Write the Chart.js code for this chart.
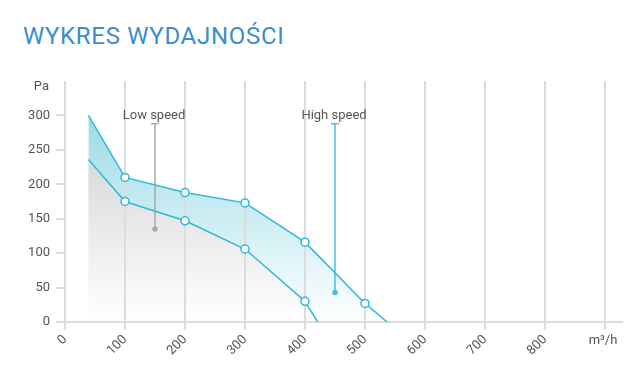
<!DOCTYPE html>
<html>
<head>
<meta charset="utf-8">
<script src="https://cdn.jsdelivr.net/npm/chart.js@4/dist/chart.umd.min.js"></script>
<style>
  html, body { margin: 0; padding: 0; background: #fff; }
  #wrap { position: relative; width: 633px; height: 388px; }
  #title {
    position: absolute; left: 23px; top: 24px;
    font: 400 24px Roboto, sans-serif; line-height: 24px;
    letter-spacing: 0.7px;
    color: #3a8ecf; white-space: nowrap;
  }
  #perfChart { position: absolute; left: 0; top: 0; }
</style>
</head>
<body>
<div id="wrap">
  <div id="title">WYKRES WYDAJNOŚCI</div>
  <canvas id="perfChart" width="633" height="388"></canvas>
</div>
<script>
/* ===== dane z wykresu ===== */
const lowFlow  = [39, 100, 200, 300, 400, 421];
const lowPa    = [236, 175, 147, 106, 30, 0];
const highFlow = [39, 100, 200, 300, 400, 500, 537];
const highPa   = [300, 210, 188, 173, 116, 27, 0];

const xTicks = [0, 100, 200, 300, 400, 500, 600, 700, 800, 900];
const yTicks = [0, 50, 100, 150, 200, 250, 300, 350];
const xUnit = "m³/h";
const yUnit = "Pa";

// znaczniki "Low speed" / "High speed": [x, górny y, dolny y]
const lowMark  = [150, 288, 135];
const highMark = [450, 288, 43];
const markLabels = ["Low speed", "High speed"];

const CYAN = "#2fb8dc";
const GRID = "#dcdcdc";
const TEXT = "#555555";

function toPoints(xs, ys){
    return xs.map((x, i) => ({ x: x, y: ys[i] }));
}

// kółka tylko na punktach pomiarowych (bez początku i końca)
function innerRadius(xs, r){
    return xs.map((_, i) => (i === 0 || i === xs.length - 1) ? 0 : r);
}

function grayFill(ctx){
    const area = ctx.chart.chartArea;
    if(!area) return "#e6e6e6";
    const y = ctx.chart.scales.y;
    const g = ctx.chart.ctx.createLinearGradient(0, y.getPixelForValue(240), 0, area.bottom);
    g.addColorStop(0, "#d9d9d9");
    g.addColorStop(1, "#ffffff");
    return g;
}

function cyanFill(ctx){
    const area = ctx.chart.chartArea;
    if(!area) return "#bfe8ef";
    const y = ctx.chart.scales.y;
    const g = ctx.chart.ctx.createLinearGradient(0, y.getPixelForValue(300), 0, area.bottom);
    g.addColorStop(0, "#9bdae6");
    g.addColorStop(0.55, "#d2eff4");
    g.addColorStop(1, "#ffffff");
    return g;
}

/* ===== napisy: jednostki osi i etykiety znaczników ===== */
const textPlugin = {
    id: "extraText",
    afterDraw(chart){
        const c = chart.ctx;
        const xs = chart.scales.x, ys = chart.scales.y;
        c.save();
        c.fillStyle = TEXT;
        c.font = "13px Roboto, sans-serif";
        c.textBaseline = "middle";

        c.textAlign = "right";
        c.fillText(yUnit, xs.getPixelForValue(0) - 16, ys.getPixelForValue(341));

        c.textAlign = "center";
        c.fillText(xUnit, xs.getPixelForValue(900) - 2, chart.chartArea.bottom + 19);

        [lowMark, highMark].forEach((m, i) => {
            c.fillText(markLabels[i], xs.getPixelForValue(m[0]) - 1, ys.getPixelForValue(300));
        });
        c.restore();
    }
};

const ctx = document.getElementById("perfChart");

new Chart(ctx, {
    type: "line",
    data: {
        datasets: [
            {
                label: "Low speed",
                data: toPoints(lowFlow, lowPa),
                borderColor: CYAN,
                borderWidth: 1.5,
                backgroundColor: grayFill,
                fill: "origin",
                pointRadius: innerRadius(lowFlow, 4),
                pointBackgroundColor: "#ffffff",
                pointBorderColor: CYAN,
                pointBorderWidth: 1.5,
                tension: 0
            },
            {
                label: "High speed",
                data: toPoints(highFlow, highPa),
                borderColor: CYAN,
                borderWidth: 1.5,
                backgroundColor: cyanFill,
                fill: "origin",
                pointRadius: innerRadius(highFlow, 4),
                pointBackgroundColor: "#ffffff",
                pointBorderColor: CYAN,
                pointBorderWidth: 1.5,
                tension: 0
            },
            {
                label: "low marker",
                data: [{ x: lowMark[0], y: lowMark[1] }, { x: lowMark[0], y: lowMark[2] }],
                borderColor: "#a9a9a9",
                borderWidth: 1.5,
                pointStyle: ["line", "circle"],
                pointRadius: [4, 2],
                pointBorderColor: "#a9a9a9",
                pointBackgroundColor: "#a9a9a9",
                pointBorderWidth: 1.5,
                fill: false
            },
            {
                label: "high marker",
                data: [{ x: highMark[0], y: highMark[1] }, { x: highMark[0], y: highMark[2] }],
                borderColor: "#45c0e2",
                borderWidth: 1.5,
                pointStyle: ["line", "circle"],
                pointRadius: [4, 2],
                pointBorderColor: "#45c0e2",
                pointBackgroundColor: "#45c0e2",
                pointBorderWidth: 1.5,
                fill: false
            }
        ]
    },
    options: {
        responsive: false,
        animation: false,
        layout: { padding: { top: 81, right: 10, left: 0, bottom: 0 } },
        plugins: {
            legend: { display: false },
            tooltip: { enabled: false },
            filler: { drawTime: "beforeDraw" }
        },
        scales: {
            x: {
                type: "linear",
                min: 0,
                max: 930,
                afterBuildTicks: axis => { axis.ticks = xTicks.map(v => ({ value: v })); },
                afterFit: axis => { axis.height = 66; },
                border: { display: false },
                grid: { color: GRID, lineWidth: 2, tickLength: 8 },
                ticks: {
                    color: TEXT,
                    font: { family: "Roboto", size: 13 },
                    maxRotation: 45,
                    minRotation: 45,
                    padding: 2,
                    callback: v => v === 900 ? "" : String(v)
                }
            },
            y: {
                min: 0,
                max: 350,
                afterBuildTicks: axis => { axis.ticks = yTicks.map(v => ({ value: v })); },
                afterFit: axis => { axis.width = 65; },
                border: { display: false },
                grid: {
                    color: c => c.tick && c.tick.value === 0 ? GRID : "rgba(0,0,0,0)",
                    tickColor: c => c.tick && c.tick.value === 350 ? "rgba(0,0,0,0)" : GRID,
                    lineWidth: 2,
                    tickLength: 9
                },
                ticks: {
                    color: TEXT,
                    font: { family: "Roboto", size: 13 },
                    padding: 6,
                    callback: v => v === 350 ? "" : String(v)
                }
            }
        }
    },
    plugins: [textPlugin]
});
</script>
</body>
</html>
